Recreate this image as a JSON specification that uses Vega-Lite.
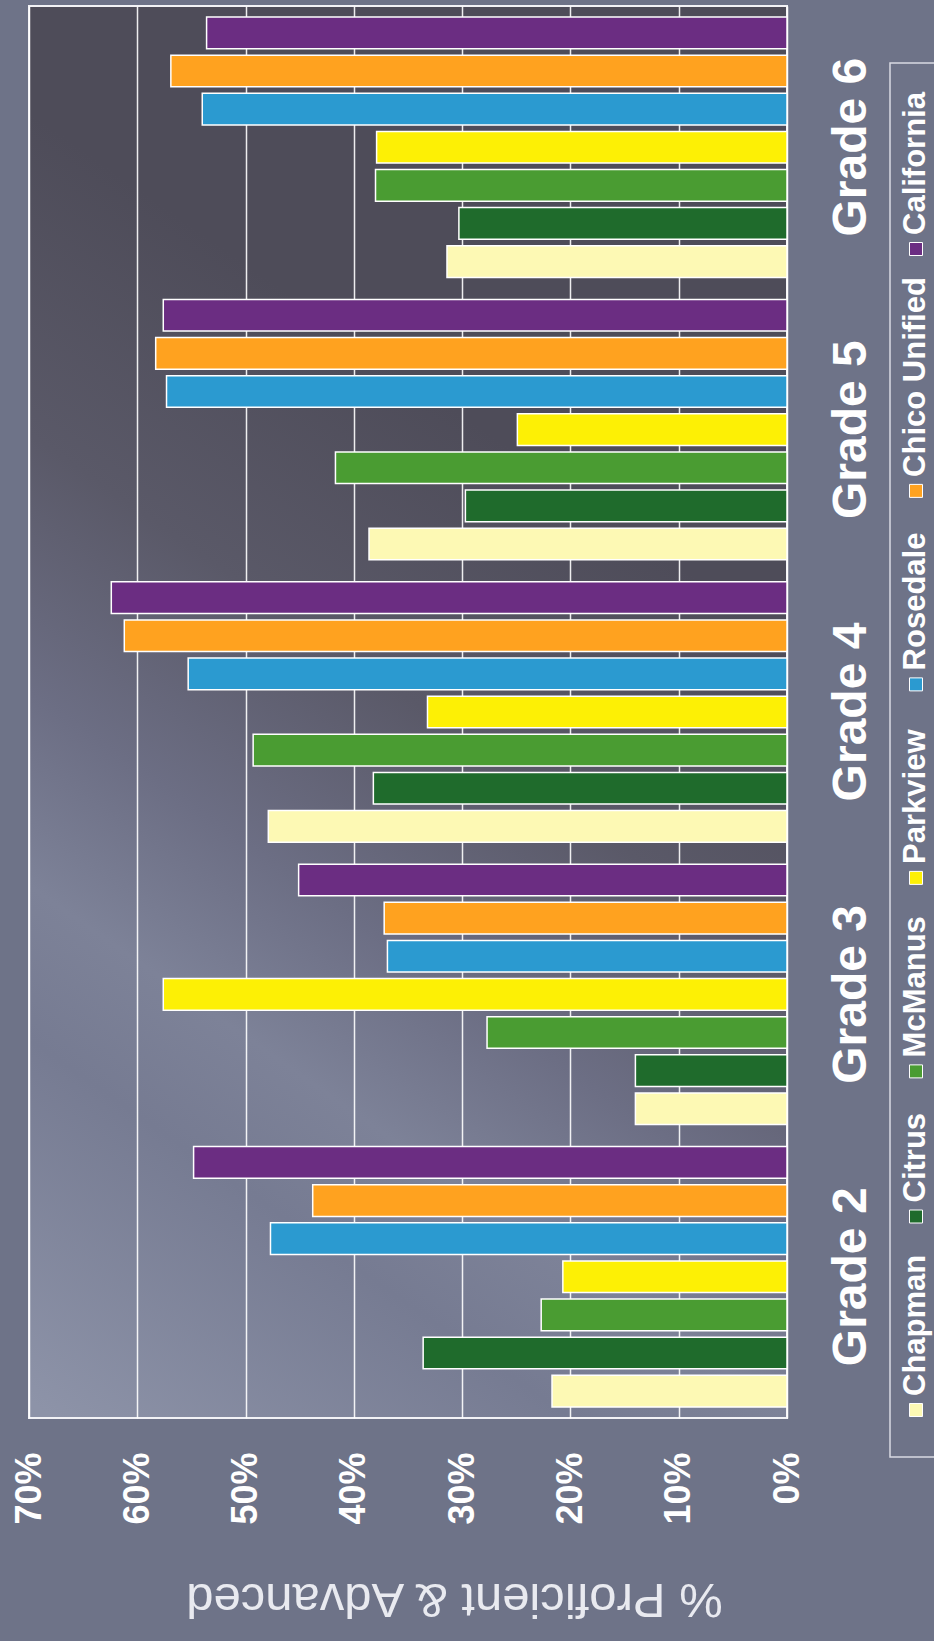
{
  "$schema": "https://vega.github.io/schema/vega-lite/v6.json",
  "padding": {"left": 10, "top": 5, "right": 0, "bottom": 30},
  "background": "#6e7388",
  "spacing": 13,
  "config": {
    "font": "Liberation Sans",
    "view": {"stroke": "#f2f2f6", "strokeWidth": 2}
  },
  "datasets": {
    "scores": [
      {"grade": "Grade 2", "school": "Chapman", "pct": 21.7},
      {"grade": "Grade 2", "school": "Citrus", "pct": 33.6},
      {"grade": "Grade 2", "school": "McManus", "pct": 22.7},
      {"grade": "Grade 2", "school": "Parkview", "pct": 20.7},
      {"grade": "Grade 2", "school": "Rosedale", "pct": 47.7},
      {"grade": "Grade 2", "school": "Chico Unified", "pct": 43.8},
      {"grade": "Grade 2", "school": "California", "pct": 54.8},
      {"grade": "Grade 3", "school": "Chapman", "pct": 14.0},
      {"grade": "Grade 3", "school": "Citrus", "pct": 14.0},
      {"grade": "Grade 3", "school": "McManus", "pct": 27.7},
      {"grade": "Grade 3", "school": "Parkview", "pct": 57.6},
      {"grade": "Grade 3", "school": "Rosedale", "pct": 36.9},
      {"grade": "Grade 3", "school": "Chico Unified", "pct": 37.2},
      {"grade": "Grade 3", "school": "California", "pct": 45.1},
      {"grade": "Grade 4", "school": "Chapman", "pct": 47.9},
      {"grade": "Grade 4", "school": "Citrus", "pct": 38.2},
      {"grade": "Grade 4", "school": "McManus", "pct": 49.3},
      {"grade": "Grade 4", "school": "Parkview", "pct": 33.2},
      {"grade": "Grade 4", "school": "Rosedale", "pct": 55.3},
      {"grade": "Grade 4", "school": "Chico Unified", "pct": 61.2},
      {"grade": "Grade 4", "school": "California", "pct": 62.4},
      {"grade": "Grade 5", "school": "Chapman", "pct": 38.6},
      {"grade": "Grade 5", "school": "Citrus", "pct": 29.7},
      {"grade": "Grade 5", "school": "McManus", "pct": 41.7},
      {"grade": "Grade 5", "school": "Parkview", "pct": 24.9},
      {"grade": "Grade 5", "school": "Rosedale", "pct": 57.3},
      {"grade": "Grade 5", "school": "Chico Unified", "pct": 58.3},
      {"grade": "Grade 5", "school": "California", "pct": 57.6},
      {"grade": "Grade 6", "school": "Chapman", "pct": 31.4},
      {"grade": "Grade 6", "school": "Citrus", "pct": 30.3},
      {"grade": "Grade 6", "school": "McManus", "pct": 38.0},
      {"grade": "Grade 6", "school": "Parkview", "pct": 37.9},
      {"grade": "Grade 6", "school": "Rosedale", "pct": 54.0},
      {"grade": "Grade 6", "school": "Chico Unified", "pct": 56.9},
      {"grade": "Grade 6", "school": "California", "pct": 53.6}
    ],
    "schools": [
      {"school": "California"},
      {"school": "Chico Unified"},
      {"school": "Rosedale"},
      {"school": "Parkview"},
      {"school": "McManus"},
      {"school": "Citrus"},
      {"school": "Chapman"}
    ]
  },
  "hconcat": [
    {
      "width": 758,
      "height": 1412,
      "view": {
        "stroke": "#f2f2f6",
        "strokeWidth": 2,
        "fill": {
          "gradient": "linear",
          "x1": 0.6, "y1": 0.3, "x2": 0.3, "y2": 1.1,
          "stops": [
            {"offset": 0, "color": "#4e4c59"},
            {"offset": 0.25, "color": "#5a5968"},
            {"offset": 0.45, "color": "#6c6e84"},
            {"offset": 0.6, "color": "#7d8298"},
            {"offset": 0.72, "color": "#767b92"},
            {"offset": 1, "color": "#8d93a8"}
          ]
        }
      },
      "data": {"name": "scores"},
      "mark": {"type": "bar", "stroke": "#ffffff", "strokeWidth": 1.5},
      "encoding": {
        "y": {
          "field": "grade",
          "type": "nominal",
          "sort": ["Grade 6", "Grade 5", "Grade 4", "Grade 3", "Grade 2"],
          "scale": {"paddingInner": 0.078, "paddingOuter": 0.039},
          "axis": {
            "orient": "right",
            "title": null,
            "ticks": false,
            "domain": false,
            "grid": false,
            "labelAngle": -90,
            "labelAlign": "center",
            "labelBaseline": "top",
            "labelPadding": 40,
            "labelFontSize": 48,
            "labelFontWeight": "bold",
            "labelColor": "#ffffff",
            "labelLimit": 400
          }
        },
        "yOffset": {
          "field": "school",
          "type": "nominal",
          "sort": ["California", "Chico Unified", "Rosedale", "Parkview", "McManus", "Citrus", "Chapman"],
          "scale": {"paddingInner": 0.17, "paddingOuter": 0}
        },
        "x": {
          "field": "pct",
          "type": "quantitative",
          "scale": {"domain": [0, 70], "reverse": true, "nice": false},
          "axis": {
            "values": [0, 10, 20, 30, 40, 50, 60, 70],
            "labelExpr": "datum.value + '%'",
            "labelAngle": -90,
            "labelAlign": "right",
            "labelBaseline": "middle",
            "labelPadding": 34,
            "labelFontSize": 36,
            "labelFontWeight": "bold",
            "labelColor": "#ffffff",
            "labelFlush": false,
            "labelOverlap": false,
            "ticks": false,
            "domain": false,
            "grid": true,
            "gridColor": "#ffffff",
            "gridWidth": 1.5,
            "gridOpacity": 0.9,
            "title": "% Proficient & Advanced",
            "titleAngle": 180,
            "titleAlign": "center",
            "titleBaseline": "alphabetic",
            "titleFontSize": 49,
            "titleFontWeight": "normal",
            "titleColor": "#e9eaf0",
            "titleX": 425,
            "titleY": 165
          }
        },
        "color": {
          "field": "school",
          "type": "nominal",
          "scale": {
            "domain": ["California", "Chico Unified", "Rosedale", "Parkview", "McManus", "Citrus", "Chapman"],
            "range": ["#6b2d82", "#ffa21f", "#2b9ad0", "#fdf005", "#4a9c32", "#1f6b2c", "#fdf9b4"]
          },
          "legend": null
        }
      }
    },
    {
      "spacing": 20,
      "vconcat": [
        {
          "width": 52,
          "height": 36,
          "view": {"stroke": null, "fill": null},
          "data": {"values": []},
          "mark": "text",
          "encoding": {}
        },
        {
          "width": 52,
          "height": 1394,
          "view": {"fill": null, "stroke": "#d9dae2", "strokeWidth": 1.5},
          "data": {"name": "schools"},
          "encoding": {
            "y": {
              "field": "school",
              "type": "nominal",
              "scale": {
                "type": "point",
                "domain": [
                  "California", "gap 1", "gap 2", "gap 3", "gap 4",
                  "Chico Unified", "gap 5", "gap 6", "gap 7",
                  "Rosedale", "gap 8", "gap 9", "gap 10",
                  "Parkview", "gap 11", "gap 12", "gap 13",
                  "McManus", "gap 14", "gap 15",
                  "Citrus", "gap 16", "gap 17", "gap 18",
                  "Chapman"
                ],
                "range": [186, 1347],
                "padding": 0
              },
              "axis": null
            }
          },
          "layer": [
            {
              "mark": {"type": "point", "shape": "square", "size": 169, "filled": true, "opacity": 1, "stroke": "#ffffff", "strokeWidth": 1},
              "encoding": {
                "color": {
                  "field": "school",
                  "type": "nominal",
                  "scale": {
                    "domain": ["California", "Chico Unified", "Rosedale", "Parkview", "McManus", "Citrus", "Chapman"],
                    "range": ["#6b2d82", "#ffa21f", "#2b9ad0", "#fdf005", "#4a9c32", "#1f6b2c", "#fdf9b4"]
                  },
                  "legend": null
                }
              }
            },
            {
              "mark": {"type": "text", "angle": 270, "align": "left", "baseline": "middle", "dx": 14, "fontSize": 31, "fontWeight": "bold", "color": "#ffffff"},
              "encoding": {"text": {"field": "school", "type": "nominal"}}
            }
          ]
        }
      ]
    }
  ]
}
